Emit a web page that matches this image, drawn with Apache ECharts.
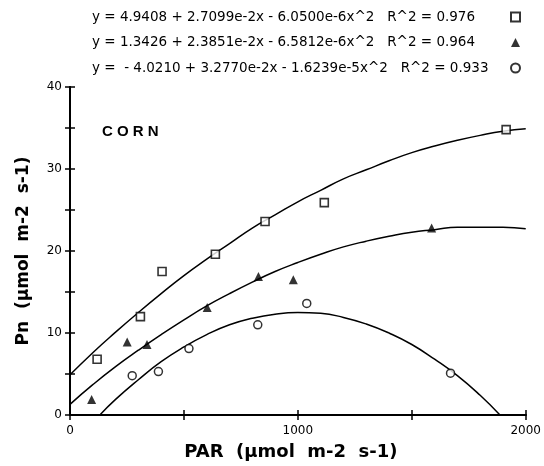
<!DOCTYPE html>
<html>
<head>
<meta charset="utf-8">
<script src="https://cdn.jsdelivr.net/npm/echarts@6/dist/echarts.min.js"></script>
<style>
  html, body { margin: 0; padding: 0; background: #fff; }
  #chart { width: 544px; height: 466px; }
</style>
</head>
<body>
<div id="chart"></div>
<script>
var sqX = [119, 309, 404, 638, 856, 1116, 1914];
var sqY = [6.8, 12.0, 17.5, 19.6, 23.6, 25.9, 34.8];
var triX = [95, 251, 338, 602, 827, 980, 1587];
var triY = [1.9, 8.9, 8.6, 13.1, 16.9, 16.5, 22.8];
var cirX = [273, 388, 522, 824, 1039, 1670];
var cirY = [4.8, 5.3, 8.1, 11.0, 13.6, 5.1];

// fitted curves
var fitX = [0, 100, 200, 300, 400, 500, 600, 700, 800, 900, 1000, 1100, 1200, 1300, 1400, 1500, 1600, 1700, 1800, 1900, 2000];
var fit1Y = [4.9, 7.6, 10.1, 12.5, 14.8, 17.0, 19.0, 20.9, 22.8, 24.4, 26.0, 27.4, 28.8, 29.9, 31.0, 32.0, 32.8, 33.5, 34.1, 34.6, 34.9];
var fit2Y = [1.3, 3.7, 5.9, 7.9, 9.8, 11.6, 13.3, 14.8, 16.2, 17.5, 18.6, 19.6, 20.5, 21.2, 21.8, 22.3, 22.6, 22.9, 22.9, 22.9, 22.7];
var fit3X = [131, 200, 300, 400, 500, 600, 700, 800, 900, 1000, 1100, 1200, 1300, 1400, 1500, 1600, 1700, 1800, 1887];
var fit3Y = [0, 1.9, 4.3, 6.5, 8.3, 9.8, 11.0, 11.8, 12.3, 12.5, 12.4, 11.9, 11.1, 10.0, 8.6, 6.8, 4.8, 2.4, 0];

var xLabels = [0, 1000, 2000];
var yLabels = [0, 10, 20, 30, 40];

var eqNames = [
  'y = 4.9408 + 2.7099e-2x - 6.0500e-6x^2   R^2 = 0.976',
  'y = 1.3426 + 2.3851e-2x - 6.5812e-6x^2   R^2 = 0.964',
  'y =  - 4.0210 + 3.2770e-2x - 1.6239e-5x^2   R^2 = 0.933'
];

function pairs(xs, ys) {
  return xs.map(function (x, i) { return [x, ys[i]]; });
}

var font = 'DejaVu Sans, sans-serif';
var axisLine = { lineStyle: { color: '#000', width: 2 } };
var tick = { inside: true, length: 5, lineStyle: { color: '#000', width: 1.5 } };

var chart = echarts.init(document.getElementById('chart'));
chart.setOption({
  animation: false,
  backgroundColor: '#fff',
  textStyle: { fontFamily: font, color: '#000' },
  grid: { left: 70, right: 17, top: 87, bottom: 45 },
  legend: {
    data: eqNames,
    orient: 'vertical',
    left: 92,
    top: 10,
    padding: 0,
    align: 'right',
    itemGap: 11.5,
    itemWidth: 9,
    itemHeight: 9,
    formatter: '{a|{name}}',
    textStyle: {
      fontFamily: font, fontSize: 13.5, color: '#000',
      rich: { a: { width: 414, align: 'left', fontFamily: font, fontSize: 13.5, lineHeight: 16 } }
    },
    selectedMode: false
  },
  xAxis: [{
    type: 'value', min: 0, max: 2000, interval: 500,
    axisLine: axisLine, axisTick: tick,
    axisLabel: {
      color: '#000', fontSize: 12, margin: 10,
      formatter: function (v) { return xLabels.indexOf(v) >= 0 ? String(v) : ''; }
    },
    splitLine: { show: false },
    name: 'PAR  (\u00b5mol  m-2  s-1)',
    nameLocation: 'middle',
    nameGap: 28,
    nameTextStyle: { fontSize: 18, fontWeight: 'bold', color: '#000', fontFamily: font, padding: [0, 14, 0, 0] }
  }, {
    type: 'value', min: 0, max: 2000, interval: 500, position: 'top',
    axisLine: axisLine, axisTick: tick,
    axisLabel: { show: false },
    splitLine: { show: false }
  }],
  yAxis: [{
    type: 'value', min: 0, max: 40, interval: 5,
    axisLine: axisLine, axisTick: tick,
    axisLabel: {
      color: '#000', fontSize: 12, margin: 8,
      formatter: function (v) { return yLabels.indexOf(v) >= 0 ? String(v) : ''; }
    },
    splitLine: { show: false },
    name: 'Pn  (\u00b5mol  m-2  s-1)',
    nameLocation: 'middle',
    nameGap: 38,
    nameTextStyle: { fontSize: 17, fontWeight: 'bold', color: '#000', fontFamily: font }
  }, {
    type: 'value', min: 0, max: 40, interval: 5, position: 'right',
    axisLine: axisLine, axisTick: tick,
    axisLabel: { show: false },
    splitLine: { show: false }
  }],
  graphic: [{
    type: 'text', left: 102, top: 124,
    style: { text: 'C O R N', fontFamily: 'Liberation Sans, Arial, sans-serif', fontSize: 15, fontWeight: 'bold', fill: '#000' }
  }],
  series: [{
    name: 'fit1', type: 'line', data: pairs(fitX, fit1Y), showSymbol: false, smooth: true,
    lineStyle: { color: '#000', width: 1.5 }, z: 2
  }, {
    name: 'fit2', type: 'line', data: pairs(fitX, fit2Y), showSymbol: false, smooth: true,
    lineStyle: { color: '#000', width: 1.5 }, z: 2
  }, {
    name: 'fit3', type: 'line', data: pairs(fit3X, fit3Y), showSymbol: false, smooth: true,
    lineStyle: { color: '#000', width: 1.5 }, z: 2
  }, {
    name: eqNames[0], type: 'scatter', data: pairs(sqX, sqY), symbol: 'rect', symbolSize: 8,
    itemStyle: { color: '#fff', borderColor: '#000', borderWidth: 1.6 }, z: 3
  }, {
    name: eqNames[1], type: 'scatter', data: pairs(triX, triY), symbol: 'triangle', symbolSize: 9,
    itemStyle: { color: '#000' }, z: 3
  }, {
    name: eqNames[2], type: 'scatter', data: pairs(cirX, cirY), symbol: 'circle', symbolSize: 8,
    itemStyle: { color: '#fff', borderColor: '#000', borderWidth: 1.5 }, z: 3
  }]
});
</script>
</body>
</html>
